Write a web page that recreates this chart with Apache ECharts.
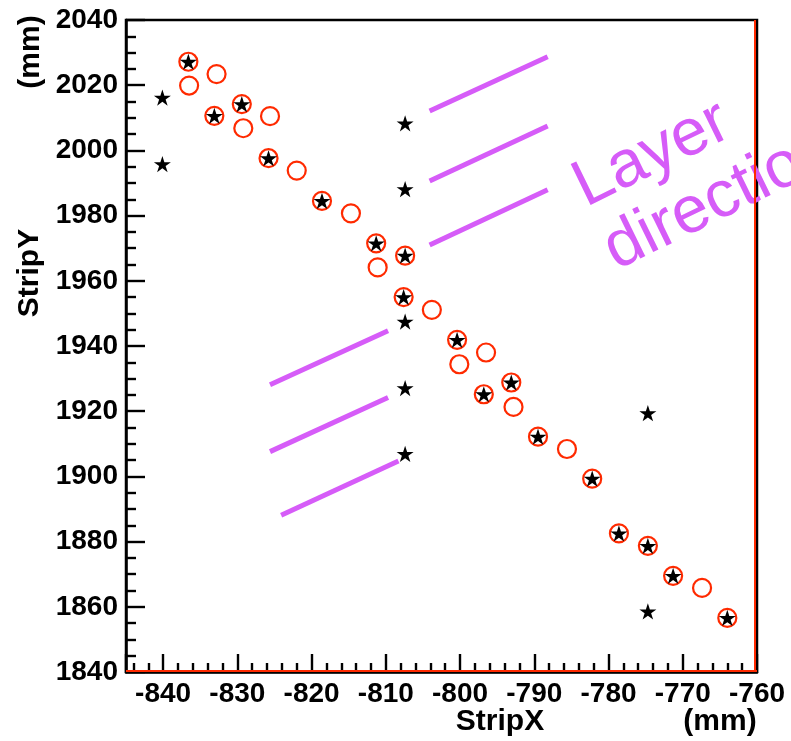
<!DOCTYPE html>
<html><head><meta charset="utf-8">
<script src="https://cdn.jsdelivr.net/npm/echarts@6/dist/echarts.min.js"></script>
<style>html,body{margin:0;padding:0;background:#fff}#c{width:791px;height:741px}</style>
</head><body><div id="c"></div>
<script>
// Black stars (StripX, StripY in mm)
const starX = [-836.6,-840.1,-840.1,-833.1,-829.4,-825.8,-818.6,-811.3,-807.4,-807.6,-807.4,-807.4,-807.4,-807.4,-807.4,-800.4,-793.1,-796.8,-789.5,-782.2,-774.7,-778.6,-774.7,-771.3,-774.7,-764.0];
const starY = [2027.2,2016.2,1995.8,2010.6,2014.2,1997.6,1984.5,1971.5,1967.7,1955.0,2008.3,1988.1,1947.5,1927.1,1906.9,1941.9,1928.8,1925.2,1912.2,1899.3,1919.4,1882.5,1878.7,1869.5,1858.6,1856.6];
// Red open circles
const circleX = [-836.6,-833.1,-829.4,-825.8,-818.6,-811.3,-807.4,-807.6,-800.4,-793.1,-796.8,-789.5,-782.2,-778.6,-774.7,-771.3,-764.0,
                 -832.8,-836.5,-829.2,-825.6,-822.0,-814.7,-811.1,-803.8,-796.5,-800.1,-792.8,-785.6,-767.4];
const circleY = [2027.2,2010.6,2014.2,1997.6,1984.5,1971.5,1967.7,1955.0,1941.9,1928.8,1925.2,1912.2,1899.3,1882.5,1878.7,1869.5,1856.6,
                 2023.4,2019.9,2006.8,2010.5,1993.8,1980.7,1964.1,1951.1,1938.0,1934.4,1921.3,1908.4,1865.8];
// Layer-direction segments
const layerX1 = [-804.1,-804.1,-804.1,-825.6,-825.6,-824.1];
const layerY1 = [2012.1,1990.6,1971.0,1928.1,1907.6,1888.1];
const layerX2 = [-788.2,-788.2,-788.2,-809.7,-809.7,-808.3];
const layerY2 = [2028.7,2007.5,1987.9,1944.7,1924.2,1904.7];
// Red histogram-frame edges (just inside the black frame)
const frameBottomY = 1840.5;
const frameRightX = -760.25;

const RED = '#ff2a00', PURPLE = '#d65cf8';
const FONT = '"Liberation Sans", Arial, Helvetica, sans-serif';
const STAR = 'path://M0,-10L2.245,-3.09L9.511,-3.09L3.633,1.18L5.878,8.09L0,3.82L-5.878,8.09L-3.633,1.18L-9.511,-3.09L-2.245,-3.09Z';

const chart = echarts.init(document.getElementById('c'), null, {renderer:'canvas'});
const axisLbl = () => ({color:'#000', fontFamily:FONT, fontWeight:'bold', fontSize:28, formatter:(v)=>String(Math.round(v))});
const tickStyle = () => ({color:'#000', width:2.4, opacity:1, type:'solid'});
chart.setOption({
  animation:false,
  backgroundColor:'#fff',
  grid:{left:126, top:20, width:631, height:652, show:true, borderColor:'#000', borderWidth:2.5, backgroundColor:'rgba(0,0,0,0)'},
  xAxis:[
    {type:'value', position:'bottom', min:-845, max:-760, splitNumber:8,
     axisLine:{show:true, onZero:false, lineStyle:{color:'#000', width:2.5}},
     axisTick:{show:true, inside:true, length:18, lineStyle:tickStyle()},
     minorTick:{show:true, splitNumber:5, length:9, lineStyle:tickStyle()},
     splitLine:{show:false}, minorSplitLine:{show:false},
     axisLabel:Object.assign({showMinLabel:false, margin:8}, axisLbl())}
  ],
  yAxis:[
    {type:'value', position:'left', min:1840, max:2040, interval:20,
     axisLine:{show:true, onZero:false, lineStyle:{color:'#000', width:2.5}},
     axisTick:{show:true, inside:true, length:19, lineStyle:tickStyle()},
     minorTick:{show:true, splitNumber:4, length:10, lineStyle:tickStyle()},
     splitLine:{show:false}, minorSplitLine:{show:false},
     axisLabel:Object.assign({margin:8}, axisLbl())}
  ],
  series:[
    {type:'lines', coordinateSystem:'cartesian2d', polyline:false, silent:true, z:2,
     lineStyle:{color:PURPLE, width:5, opacity:1},
     data:layerX1.map((x,i)=>({coords:[[x,layerY1[i]],[layerX2[i],layerY2[i]]]})),
     markLine:{silent:true, symbol:['none','none'], label:{show:false}, animation:false,
       lineStyle:{color:RED, width:2, type:'solid', opacity:1},
       data:[{yAxis:frameBottomY}, {xAxis:frameRightX}]}},
    {type:'scatter', name:'circles', z:3, symbol:'circle', symbolSize:18,
     itemStyle:{color:'rgba(255,255,255,0)', borderColor:RED, borderWidth:2.2, opacity:1},
     emphasis:{disabled:true},
     data:circleX.map((x,i)=>[x,circleY[i]])},
    {type:'scatter', name:'stars', z:4, symbol:STAR, symbolSize:17, symbolKeepAspect:true,
     itemStyle:{color:'#000', opacity:1},
     emphasis:{disabled:true},
     data:starX.map((x,i)=>[x,starY[i]])}
  ],
  graphic:[
    {type:'group', x:586, y:208, rotation:26*Math.PI/180, z:10, children:[
      {type:'text', x:0, y:14, style:{text:'Layer', fontSize:66, fontFamily:FONT, fill:PURPLE, align:'left', verticalAlign:'bottom'}},
      {type:'text', x:0, y:84, style:{text:'direction', fontSize:66, fontFamily:FONT, fill:PURPLE, align:'left', verticalAlign:'bottom'}}
    ]},
    {type:'text', x:29.5, y:273, rotation:Math.PI/2, style:{text:'StripY', fontSize:30, fontWeight:'bold', fontFamily:FONT, fill:'#000', align:'center', verticalAlign:'middle'}},
    {type:'text', x:31, y:52, rotation:Math.PI/2, style:{text:'(mm)', fontSize:30, fontWeight:'bold', fontFamily:FONT, fill:'#000', align:'center', verticalAlign:'middle'}},
    {type:'text', x:500, y:722, style:{text:'StripX', fontSize:30, fontWeight:'bold', fontFamily:FONT, fill:'#000', align:'center', verticalAlign:'middle'}},
    {type:'text', x:720, y:722, style:{text:'(mm)', fontSize:30, fontWeight:'bold', fontFamily:FONT, fill:'#000', align:'center', verticalAlign:'middle'}}
  ]
});
</script></body></html>
